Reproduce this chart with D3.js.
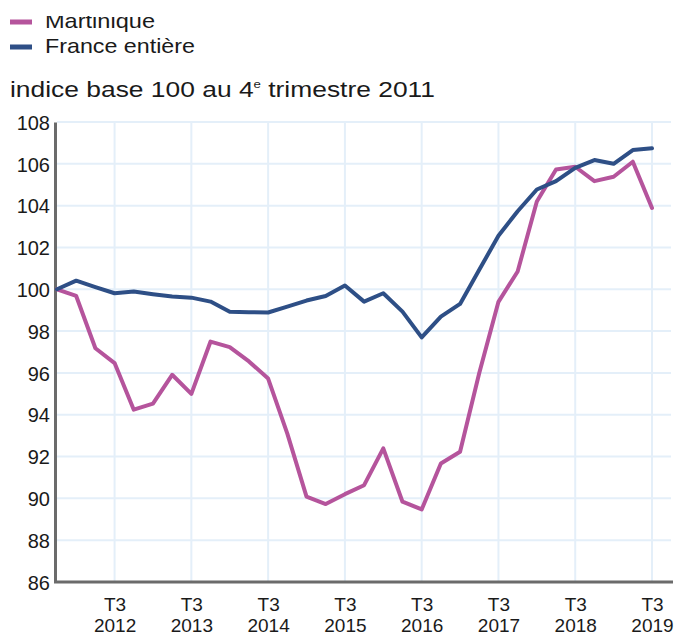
<!DOCTYPE html>
<html><head><meta charset="utf-8">
<script src="https://cdn.jsdelivr.net/npm/d3@7"></script>
<style>
html,body{margin:0;padding:0;background:#fff;}
text{font-family:"Liberation Sans",Arial,Helvetica,sans-serif;fill:#1a1a1a;}
</style></head>
<body>
<script>
const quarters = ["T4 2011","T1 2012","T2 2012","T3 2012","T4 2012","T1 2013","T2 2013","T3 2013","T4 2013",
  "T1 2014","T2 2014","T3 2014","T4 2014","T1 2015","T2 2015","T3 2015","T4 2015","T1 2016","T2 2016","T3 2016",
  "T4 2016","T1 2017","T2 2017","T3 2017","T4 2017","T1 2018","T2 2018","T3 2018","T4 2018","T1 2019","T2 2019","T3 2019"];
const martinique = [100, 99.68, 97.18, 96.47, 94.24, 94.53, 95.91, 95.0, 97.5, 97.23, 96.55, 95.73, 93.1, 90.08, 89.73, 90.2,
  90.63, 92.39, 89.84, 89.47, 91.67, 92.23, 96.0, 99.4, 100.85, 104.2, 105.73, 105.86, 105.17, 105.38, 106.1, 103.89];
const france = [100, 100.41, 100.1, 99.81, 99.89, 99.76, 99.65, 99.6, 99.41, 98.92, 98.9, 98.89, 99.17, 99.46, 99.68, 100.18,
  99.41, 99.81, 98.93, 97.7, 98.69, 99.3, 100.93, 102.56, 103.73, 104.77, 105.17, 105.81, 106.18, 106.0, 106.66, 106.74];
const xTickQuarters = ["T3 2012","T3 2013","T3 2014","T3 2015","T3 2016","T3 2017","T3 2018","T3 2019"];
const yTicks = [86, 88, 90, 92, 94, 96, 98, 100, 102, 104, 106, 108];
const seriesNames = ["Martinique", "France entière"];
const subtitle = "indice base 100 au 4";

const W = 677, H = 635;
const colors = {"Martinique":"#b5549c", "France entière":"#2e4f86"};

const svg = d3.select("body").append("svg").attr("width", W).attr("height", H);

const x = d3.scalePoint().domain(quarters).range([57, 652]);
const y = d3.scaleLinear().domain([86, 108]).range([582, 122]);

// grid
const grid = svg.append("g");
grid.selectAll("line.h").data(yTicks.slice(1)).join("line")
  .attr("x1", 57).attr("x2", 671).attr("y1", d => y(d)).attr("y2", d => y(d))
  .attr("stroke", "#e4eff9").attr("stroke-width", 2);
grid.selectAll("line.v").data(xTickQuarters).join("line")
  .attr("x1", d => x(d)).attr("x2", d => x(d)).attr("y1", y(108)).attr("y2", y(86))
  .attr("stroke", "#e4eff9").attr("stroke-width", 2);

// y axis
const yAxis = svg.append("g").attr("transform", "translate(55,0)")
  .call(d3.axisLeft(y).tickValues(yTicks).tickSize(0).tickPadding(5));
yAxis.select(".domain").attr("stroke", "#6b6b6b").attr("stroke-width", 3);
yAxis.selectAll("text").attr("font-size", 20).attr("fill", "#1a1a1a")
  .attr("font-family", "'Liberation Sans',Arial,sans-serif").attr("dy", "0.36em");

// x axis
const xAxis = svg.append("g").attr("transform", `translate(0,${y(86)})`)
  .call(d3.axisBottom(x).tickValues(xTickQuarters).tickSize(0).tickFormat(() => ""));
xAxis.select(".domain").attr("d", `M54,0H673`).attr("stroke", "#6b6b6b").attr("stroke-width", 3);
xAxis.selectAll(".tick text").each(function(d) {
  const parts = d.split(" ");
  const t = d3.select(this).attr("font-size", 19).attr("fill", "#1a1a1a")
    .attr("font-family", "'Liberation Sans',Arial,sans-serif").attr("y", 0).attr("dy", null);
  t.append("tspan").attr("x", 0).attr("y", 29).text(parts[0]);
  t.append("tspan").attr("x", 0).attr("y", 50).text(parts[1]);
});

// lines
const line = d3.line().x((d, i) => x(quarters[i])).y(d => y(d));
[["Martinique", martinique], ["France entière", france]].forEach(([name, vals]) => {
  svg.append("path").datum(vals).attr("d", line).attr("fill", "none")
    .attr("stroke", colors[name]).attr("stroke-width", 4)
    .attr("stroke-linejoin", "round").attr("stroke-linecap", "round");
});

// legend
svg.append("clipPath").attr("id", "legclip").append("rect")
  .attr("x", 0).attr("y", 16).attr("width", W).attr("height", 100);
const leg = svg.append("g").attr("clip-path", "url(#legclip)");
const legY = [28, 53];
const legLen = [110, 150];
seriesNames.forEach((n, i) => {
  leg.append("rect").attr("x", 10).attr("y", legY[i] - 8.5).attr("width", 22).attr("height", 5)
    .attr("fill", colors[n]);
  leg.append("text").attr("x", 45).attr("y", legY[i]).attr("font-size", 21)
    .attr("textLength", legLen[i]).attr("lengthAdjust", "spacingAndGlyphs").text(n);
});

// subtitle
const st = svg.append("text").attr("x", 10).attr("y", 97).attr("font-size", 22)
  .attr("textLength", 425).attr("lengthAdjust", "spacingAndGlyphs");
st.append("tspan").text(subtitle);
st.append("tspan").attr("font-size", 11).attr("dy", -9).text("e");
st.append("tspan").attr("dy", 9).text(" trimestre 2011");
</script>
</body></html>
